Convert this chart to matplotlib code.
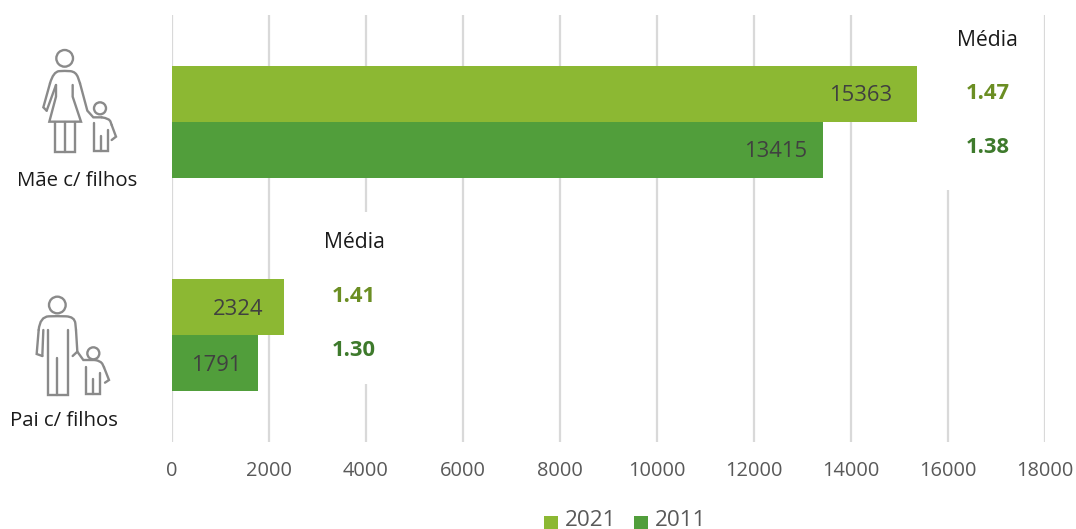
import matplotlib
matplotlib.use("Agg")
import matplotlib.pyplot as plt
from matplotlib.patches import Circle, Rectangle, PathPatch
from matplotlib.path import Path

plt.rcParams['font.family'] = ['Open Sans', 'DejaVu Sans']

W, H = 1076, 529
categories = ["Mãe c/ filhos", "Pai c/ filhos"]
series_2021 = [15363, 2324]
series_2011 = [13415, 1791]
mean_2021 = ["1.47", "1.41"]
mean_2011 = ["1.38", "1.30"]
x_ticks = list(range(0, 18001, 2000))

# How far each value label stands back from its bar end, in axis units
inset_2021 = [515, 430]
inset_2011 = [310, 350]

C_2021 = "#8CB833"
C_2011 = "#519E3B"
C_GRID = "#D9D9D9"
C_ICON = "#8A8A8A"

fig = plt.figure(figsize=(W / 100, H / 100), dpi=100)
ax = fig.add_axes([171.5 / W, 1 - 442 / H, (1045 - 171.5) / W, 427 / H])
ax.set_xlim(0, 18000)
ax.set_ylim(1.5, -0.5)

# Vertical grid, kept under the bars
for t in x_ticks:
    ax.axvline(t, color=C_GRID, lw=1.6, zorder=1)

# Blank panels behind the "Média" columns interrupt some grid lines
ax.add_patch(Rectangle((15500, -0.5), 2000, 0.82, fc="white", ec="none", zorder=1.5))
ax.add_patch(Rectangle((3300, 0.423), 1400, 0.805, fc="white", ec="none", zorder=1.5))

bar_h = 56 / 213.5
ax.barh([i - bar_h / 2 for i in range(2)], series_2021, height=bar_h, color=C_2021, zorder=2)
ax.barh([i + bar_h / 2 for i in range(2)], series_2011, height=bar_h, color=C_2011, zorder=2)

# Value labels sit inside the bars, a little back from the end
dy = 2 / 213.5
for i in range(2):
    ax.text(series_2021[i] - inset_2021[i], i - bar_h / 2 + dy, str(series_2021[i]), ha="right", va="center",
            fontsize=15.8, color="#404040", zorder=3)
    ax.text(series_2011[i] - inset_2011[i], i + bar_h / 2 + dy, str(series_2011[i]), ha="right", va="center",
            fontsize=15.8, color="#404040", zorder=3)

ax.tick_params(axis="both", length=0)
ax.set_yticks([])
ax.set_xticks(x_ticks)
ax.set_xticklabels([str(t) for t in x_ticks], fontsize=14.4, color="#595959")
ax.tick_params(axis="x", pad=14)
for s in ax.spines.values():
    s.set_visible(False)

# Overlay in pixel coordinates (y downward)
ov = fig.add_axes([0, 0, 1, 1], facecolor="none")
ov.set_xlim(0, W)
ov.set_ylim(H, 0)
ov.axis("off")

ov.text(77, 181, categories[0], ha="center", va="center", fontsize=14.7, color="#1a1a1a")
ov.text(64, 421, categories[1], ha="center", va="center", fontsize=14.7, color="#1a1a1a")

C_M1, C_M2 = "#6B8E23", "#3E7A2C"
for x, y0, m1, m2 in [(987.5, 40, mean_2021[0], mean_2011[0]), (354, 243, mean_2021[1], mean_2011[1])]:
    ov.text(x, y0, "Média", ha="center", va="center", fontsize=15.2, color="#1a1a1a")
    ov.text(x, y0 + 53.5, m1, ha="center", va="center", fontsize=15.8, fontweight="bold", color=C_M1)
    ov.text(x, y0 + 107.5, m2, ha="center", va="center", fontsize=15.8, fontweight="bold", color=C_M2)

# Legend
for x, label, c in [(544, "2021", C_2021), (634, "2011", C_2011)]:
    ov.add_patch(Rectangle((x, 516), 13.5, 12.5, fc=c, ec="none"))
    ov.text(x + 21, 521, label, ha="left", va="center", fontsize=16.2, color="#595959")


def stroke(pts, ox, oy):
    # Outline through the given points, rounded at the inner vertices
    xy = [(ox + p[0] / 3, oy + p[1] / 3) for p in pts]
    verts, codes = [xy[0]], [Path.MOVETO]
    for i in range(1, len(xy) - 1):
        mid = ((xy[i][0] + xy[i + 1][0]) / 2, (xy[i][1] + xy[i + 1][1]) / 2)
        verts += [xy[i], mid]
        codes += [Path.CURVE3, Path.CURVE3]
    verts.append(xy[-1])
    codes.append(Path.LINETO)
    ov.add_patch(PathPatch(Path(verts, codes), fc="none", ec=C_ICON, lw=1.7, capstyle="round", joinstyle="round"))


def poly(pts, ox, oy):
    ov.plot([ox + p[0] / 3 for p in pts], [oy + p[1] / 3 for p in pts],
            color=C_ICON, lw=1.7, solid_capstyle="round", solid_joinstyle="miter")


def ring(cx, cy, r, ox, oy):
    ov.add_patch(Circle((ox + cx / 3, oy + cy / 3), r / 3, fc="none", ec=C_ICON, lw=1.7))


# Mother and child pictogram
ox, oy = 0, 30
ring(194, 85, 25, ox, oy)
poly([(140, 242), (130, 232), (150, 160)], ox, oy)
stroke([(150, 160), (160, 125), (194, 122), (228, 125), (240, 160)], ox, oy)
poly([(240, 160), (262, 242), (280, 262), (305, 262)], ox, oy)
stroke([(305, 262), (328, 265), (335, 285)], ox, oy)
poly([(335, 285), (348, 320), (335, 330)], ox, oy)
poly([(140, 242), (168, 165)], ox, oy)
poly([(168, 165), (168, 200), (148, 275), (243, 275), (218, 200), (218, 165)], ox, oy)
poly([(165, 275), (165, 365), (225, 365), (225, 275)], ox, oy)
poly([(195, 275), (195, 365)], ox, oy)
ring(300, 235, 18, ox, oy)
poly([(283, 278), (283, 362), (325, 362), (325, 300)], ox, oy)
poly([(304, 318), (304, 362)], ox, oy)

# Father and child pictogram
ox, oy = 0, 280
ring(172, 75, 25, ox, oy)
poly([(127, 228), (110, 222), (116, 150)], ox, oy)
stroke([(116, 150), (120, 110), (172, 108), (224, 110), (228, 150)], ox, oy)
poly([(228, 150), (232, 215), (250, 240), (285, 240)], ox, oy)
stroke([(285, 240), (303, 243), (312, 262)], ox, oy)
poly([(312, 262), (327, 300), (315, 308)], ox, oy)
poly([(127, 228), (130, 150)], ox, oy)
poly([(218, 228), (232, 215)], ox, oy)
poly([(143, 150), (143, 345), (203, 345), (203, 150)], ox, oy)
poly([(172, 235), (172, 345)], ox, oy)
ring(280, 220, 18, ox, oy)
poly([(258, 260), (258, 342), (300, 342), (300, 280)], ox, oy)
poly([(278, 297), (278, 342)], ox, oy)

fig.savefig("out.png", dpi=100)
